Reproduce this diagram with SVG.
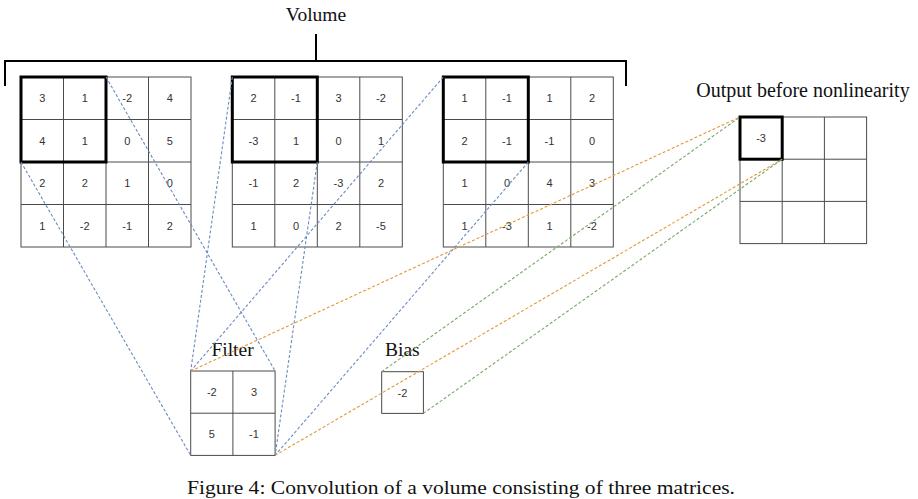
<svg xmlns="http://www.w3.org/2000/svg" width="918" height="499" viewBox="0 0 918 499">
<style>
.cell{fill:#fff;stroke:#4a4a4a;stroke-width:1}
.grid{stroke:#4a4a4a;stroke-width:1;fill:none}
.thick{fill:none;stroke:#000;stroke-width:3}
.num{font-family:"Liberation Sans",Arial,sans-serif;font-size:11px;fill:#333;text-anchor:middle}
.title{font-family:"Liberation Serif","Times New Roman",serif;font-size:19.5px;fill:#111;text-anchor:middle}
.cap{font-family:"Liberation Serif","Times New Roman",serif;font-size:19.5px;fill:#111;text-anchor:middle}
.br{stroke:#000;stroke-width:2;fill:none}
.blue{stroke:#6a8cc0;stroke-width:1.1;stroke-dasharray:3 2;fill:none}
.orange{stroke:#e09a35;stroke-width:1.1;stroke-dasharray:3 2;fill:none}
.green{stroke:#78a86a;stroke-width:1.1;stroke-dasharray:3 2;fill:none}
</style>
<rect width="918" height="499" fill="#fff"/>

<g id="volume-label">
<text class="title" x="316" y="21">Volume</text>
<path class="br" d="M5,86 V61 H626 V86 M316,34 V61"/>
</g>

<g id="matrix1">
<rect class="cell" x="21" y="77" width="170" height="170"/>
<path class="grid" d="M63.5,77V247M106,77V247M148.5,77V247M21,119.5H191M21,162H191M21,204.5H191"/>
<rect class="thick" x="21" y="77" width="85" height="85"/>
<text class="num" x="42.2" y="102.2">3</text><text class="num" x="84.7" y="102.2">1</text><text class="num" x="127.2" y="102.2">-2</text><text class="num" x="169.7" y="102.2">4</text>
<text class="num" x="42.2" y="144.7">4</text><text class="num" x="84.7" y="144.7">1</text><text class="num" x="127.2" y="144.7">0</text><text class="num" x="169.7" y="144.7">5</text>
<text class="num" x="42.2" y="187.2">2</text><text class="num" x="84.7" y="187.2">2</text><text class="num" x="127.2" y="187.2">1</text><text class="num" x="169.7" y="187.2">0</text>
<text class="num" x="42.2" y="229.7">1</text><text class="num" x="84.7" y="229.7">-2</text><text class="num" x="127.2" y="229.7">-1</text><text class="num" x="169.7" y="229.7">2</text>
</g>

<g id="matrix2">
<rect class="cell" x="232.3" y="77" width="170" height="170"/>
<path class="grid" d="M274.8,77V247M317.3,77V247M359.8,77V247M232.3,119.5H402.3M232.3,162H402.3M232.3,204.5H402.3"/>
<rect class="thick" x="232.3" y="77" width="85" height="85"/>
<text class="num" x="253.5" y="102.2">2</text><text class="num" x="296" y="102.2">-1</text><text class="num" x="338.5" y="102.2">3</text><text class="num" x="381" y="102.2">-2</text>
<text class="num" x="253.5" y="144.7">-3</text><text class="num" x="296" y="144.7">1</text><text class="num" x="338.5" y="144.7">0</text><text class="num" x="381" y="144.7">1</text>
<text class="num" x="253.5" y="187.2">-1</text><text class="num" x="296" y="187.2">2</text><text class="num" x="338.5" y="187.2">-3</text><text class="num" x="381" y="187.2">2</text>
<text class="num" x="253.5" y="229.7">1</text><text class="num" x="296" y="229.7">0</text><text class="num" x="338.5" y="229.7">2</text><text class="num" x="381" y="229.7">-5</text>
</g>

<g id="matrix3">
<rect class="cell" x="443.3" y="77" width="170" height="170"/>
<path class="grid" d="M485.8,77V247M528.3,77V247M570.8,77V247M443.3,119.5H613.3M443.3,162H613.3M443.3,204.5H613.3"/>
<rect class="thick" x="443.3" y="77" width="85" height="85"/>
<text class="num" x="464.5" y="102.2">1</text><text class="num" x="507" y="102.2">-1</text><text class="num" x="549.5" y="102.2">1</text><text class="num" x="592" y="102.2">2</text>
<text class="num" x="464.5" y="144.7">2</text><text class="num" x="507" y="144.7">-1</text><text class="num" x="549.5" y="144.7">-1</text><text class="num" x="592" y="144.7">0</text>
<text class="num" x="464.5" y="187.2">1</text><text class="num" x="507" y="187.2">0</text><text class="num" x="549.5" y="187.2">4</text><text class="num" x="592" y="187.2">3</text>
<text class="num" x="464.5" y="229.7">1</text><text class="num" x="507" y="229.7">-3</text><text class="num" x="549.5" y="229.7">1</text><text class="num" x="592" y="229.7">-2</text>
</g>

<g id="output">
<text class="title" x="803" y="97" style="font-size:20px">Output before nonlinearity</text>
<rect class="cell" x="740" y="117" width="126.6" height="126.6"/>
<path class="grid" d="M782.2,117V243.6M824.4,117V243.6M740,159.2H866.6M740,201.4H866.6"/>
<rect class="thick" x="740" y="117" width="42.2" height="42.2"/>
<text class="num" x="761.1" y="142">-3</text>
</g>

<g id="filter">
<text class="title" x="232.5" y="356">Filter</text>
<rect class="cell" x="190.7" y="371" width="84.4" height="84.4"/>
<path class="grid" d="M232.9,371V455.4M190.7,413.2H275.1"/>
<text class="num" x="211.8" y="396">-2</text><text class="num" x="254" y="396">3</text>
<text class="num" x="211.8" y="438.2">5</text><text class="num" x="254" y="438.2">-1</text>
</g>

<g id="bias">
<text class="title" x="402.3" y="356">Bias</text>
<rect class="cell" x="381.7" y="371.7" width="41.7" height="41.7"/>
<text class="num" x="402.5" y="396.5">-2</text>
</g>

<g id="connectors">
<line class="blue" x1="106" y1="77" x2="275.1" y2="371"/>
<line class="blue" x1="21" y1="162" x2="190.7" y2="455.4"/>
<line class="blue" x1="232.3" y1="77" x2="190.7" y2="371"/>
<line class="blue" x1="317.3" y1="162" x2="275.1" y2="455.4"/>
<line class="blue" x1="443.3" y1="77" x2="190.7" y2="371"/>
<line class="blue" x1="528.3" y1="162" x2="275.1" y2="455.4"/>
<line class="orange" x1="190.7" y1="371" x2="740" y2="117"/>
<line class="orange" x1="275.1" y1="455.4" x2="782.2" y2="159.2"/>
<line class="green" x1="381.7" y1="371.7" x2="740" y2="117"/>
<line class="green" x1="423.4" y1="413.4" x2="782.2" y2="159.2"/>
</g>

<text class="cap" x="461" y="494" textLength="548" lengthAdjust="spacingAndGlyphs">Figure 4: Convolution of a volume consisting of three matrices.</text>
</svg>
